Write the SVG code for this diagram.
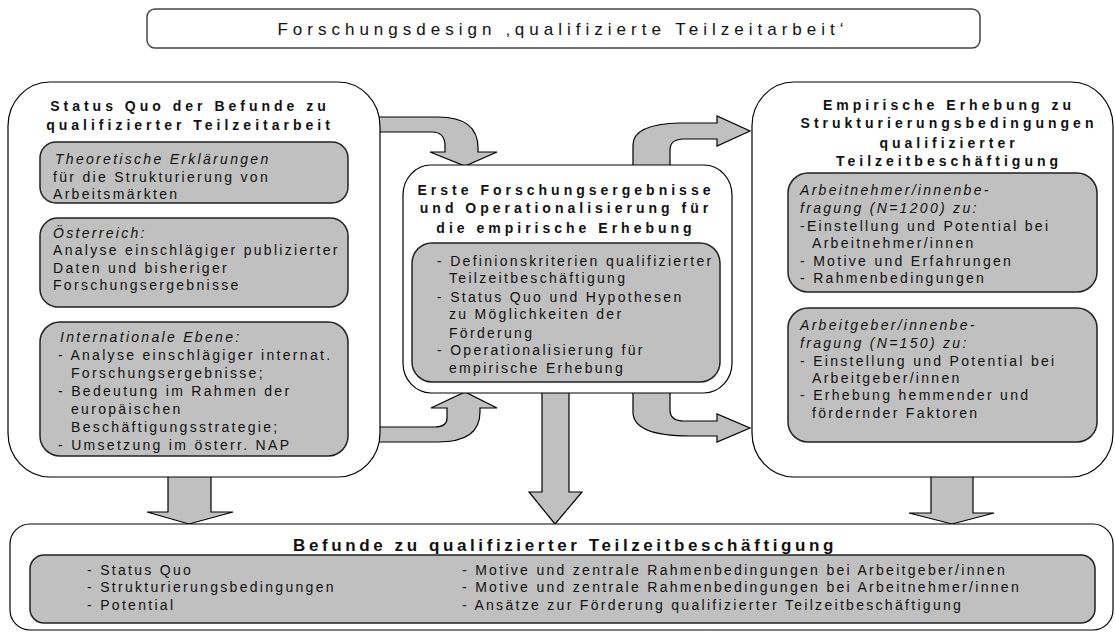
<svg xmlns="http://www.w3.org/2000/svg" width="1115" height="633" viewBox="0 0 1115 633">
<style>
.outer{fill:#fff;stroke:#000;stroke-width:1.2}
.inner{fill:#c0c0c0;stroke:#222;stroke-width:1.5}
.arrow{fill:#c0c0c0;stroke:#000;stroke-width:1.2;stroke-linejoin:miter}
text{font-family:"Liberation Sans",Arial,sans-serif;fill:#111}
.h{font-weight:bold;font-size:14px;letter-spacing:4px;text-anchor:middle}
.hb{font-weight:bold;font-size:17px;letter-spacing:3.6px;text-anchor:middle}
.t{font-size:14px;letter-spacing:2.3px}
.i{font-style:italic}
.title{font-size:17px;letter-spacing:5px;text-anchor:middle}
</style>
<rect width="1115" height="633" fill="#fff"/>

<g id="connectors">
<path class="arrow" d="M376,117 L438,117 Q478,117 478,148 L478,152 L497,152 L465,166 L430,152 L445,152 L445,146 Q445,132 432,132 L376,132 Z"/>
<path class="arrow" d="M376,442 L438,442 Q480,442 480,412 L480,408 L497,408 L465,392 L431,408 L447,408 L447,418 Q447,427 435,427 L376,427 Z"/>
<path class="arrow" d="M633,169 L633,145 Q633,124 680,123 L717,123 L717,116 L750,131 L717,146 L717,139 L684,139 Q670,139 670,150 L670,169 Z"/>
<path class="arrow" d="M633,389 L633,412 Q633,436 690,436 L717,436 L717,442 L750,428 L717,414 L717,421 L684,421 Q670,421 670,410 L670,389 Z"/>
<path class="arrow" d="M542,389 L569,389 L569,492 L582,492 L555,524 L529,492 L542,492 Z"/>
<path class="arrow" d="M168,473 L211,473 L211,512 L233,512 L189,524 L147,512 L168,512 Z"/>
<path class="arrow" d="M931,473 L973,473 L973,513 L994,513 L952,524 L909,513 L931,513 Z"/>
</g>

<g id="title">
<rect x="147" y="9" width="833" height="39" rx="8" fill="#fff" stroke="#444" stroke-width="1.5"/>
<text class="title" x="563" y="35">Forschungsdesign ‚qualifizierte Teilzeitarbeit‘</text>
</g>

<g id="status-quo">
<rect class="outer" x="8" y="82" width="372" height="395" rx="42" ry="44"/>
<text class="h" x="190" y="111">Status Quo der Befunde zu</text>
<text class="h" x="190" y="130">qualifizierter Teilzeitarbeit</text>
<rect class="inner" x="40" y="142" width="308" height="61" rx="16"/>
<text class="t i" x="55" y="164">Theoretische Erklärungen</text>
<text class="t" x="53" y="182">für die Strukturierung von</text>
<text class="t" x="53" y="199">Arbeitsmärkten</text>
<rect class="inner" x="40" y="218" width="308" height="89" rx="18"/>
<text class="t i" x="53" y="238">Österreich:</text>
<text class="t" x="53" y="255">Analyse einschlägiger publizierter</text>
<text class="t" x="53" y="273">Daten und bisheriger</text>
<text class="t" x="53" y="290">Forschungsergebnisse</text>
<rect class="inner" x="40" y="322" width="308" height="134" rx="20"/>
<text class="t i" x="60" y="342">Internationale Ebene:</text>
<text class="t" x="58" y="360">- Analyse einschlägiger internat.</text>
<text class="t" x="71" y="378">Forschungsergebnisse;</text>
<text class="t" x="58" y="396">- Bedeutung im Rahmen der</text>
<text class="t" x="71" y="414">europäischen</text>
<text class="t" x="71" y="432">Beschäftigungsstrategie;</text>
<text class="t" x="58" y="450">- Umsetzung im österr. NAP</text>
</g>

<g id="erste-ergebnisse">
<rect class="outer" x="403" y="165" width="329" height="228" rx="28" ry="30"/>
<text class="h" x="566" y="195">Erste Forschungsergebnisse</text>
<text class="h" x="566" y="213">und Operationalisierung für</text>
<text class="h" x="566" y="233">die empirische Erhebung</text>
<rect class="inner" x="412" y="243" width="308" height="139" rx="20"/>
<text class="t" x="437" y="266">- Definionskriterien qualifizierter</text>
<text class="t" x="449" y="283">Teilzeitbeschäftigung</text>
<text class="t" x="437" y="302">- Status Quo und Hypothesen</text>
<text class="t" x="449" y="319">zu Möglichkeiten der</text>
<text class="t" x="449" y="338">Förderung</text>
<text class="t" x="437" y="355">- Operationalisierung für</text>
<text class="t" x="449" y="373">empirische Erhebung</text>
</g>

<g id="empirische-erhebung">
<rect class="outer" x="752" y="82" width="361" height="395" rx="42" ry="44"/>
<text class="h" x="949" y="110">Empirische Erhebung zu</text>
<text class="h" x="949" y="128">Strukturierungsbedingungen</text>
<text class="h" x="949" y="148">qualifizierter</text>
<text class="h" x="949" y="166">Teilzeitbeschäftigung</text>
<rect class="inner" x="788" y="173" width="309" height="119" rx="20"/>
<text class="t i" x="800" y="195">Arbeitnehmer/innenbe-</text>
<text class="t i" x="800" y="213">fragung (N=1200) zu:</text>
<text class="t" x="800" y="231">-Einstellung und Potential bei</text>
<text class="t" x="812" y="248">Arbeitnehmer/innen</text>
<text class="t" x="800" y="266">- Motive und Erfahrungen</text>
<text class="t" x="800" y="283">- Rahmenbedingungen</text>
<rect class="inner" x="788" y="308" width="309" height="134" rx="20"/>
<text class="t i" x="800" y="330">Arbeitgeber/innenbe-</text>
<text class="t i" x="800" y="348">fragung (N=150) zu:</text>
<text class="t" x="800" y="366">- Einstellung und Potential bei</text>
<text class="t" x="812" y="383">Arbeitgeber/innen</text>
<text class="t" x="800" y="400">- Erhebung hemmender und</text>
<text class="t" x="812" y="418">fördernder Faktoren</text>
</g>

<g id="befunde">
<rect class="outer" x="10" y="524" width="1103" height="106" rx="20"/>
<text class="hb" x="565" y="551">Befunde zu qualifizierter Teilzeitbeschäftigung</text>
<rect class="inner" x="30" y="555" width="1065" height="68" rx="14"/>
<text class="t" x="87" y="575">- Status Quo</text>
<text class="t" x="87" y="592">- Strukturierungsbedingungen</text>
<text class="t" x="87" y="610">- Potential</text>
<text class="t" x="462" y="575">- Motive und zentrale Rahmenbedingungen bei Arbeitgeber/innen</text>
<text class="t" x="462" y="592">- Motive und zentrale Rahmenbedingungen bei Arbeitnehmer/innen</text>
<text class="t" x="462" y="610">- Ansätze zur Förderung qualifizierter Teilzeitbeschäftigung</text>
</g>
</svg>
